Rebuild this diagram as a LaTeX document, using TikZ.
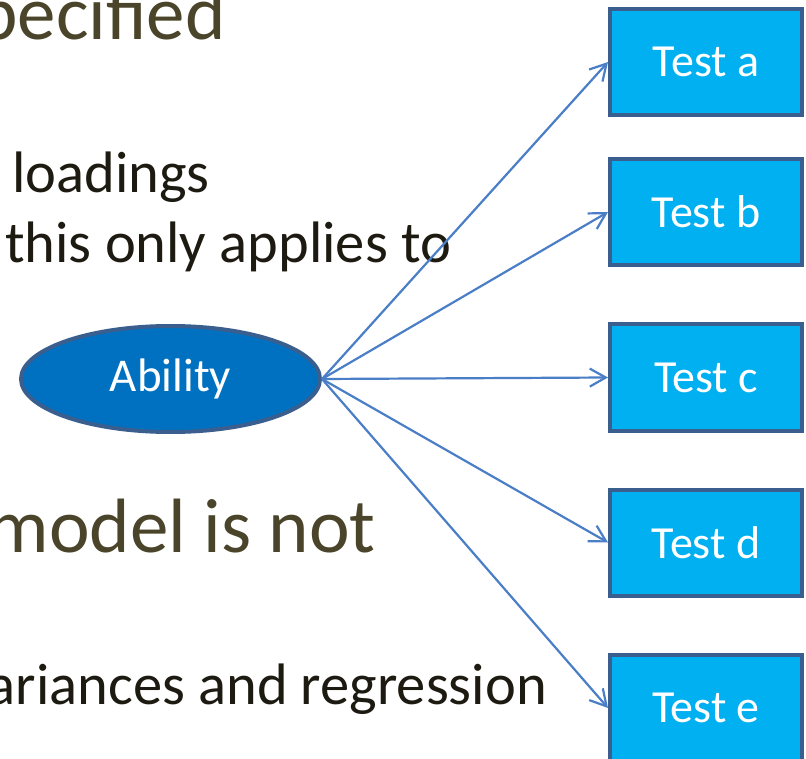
\documentclass[tikz,border=0pt]{standalone}
\usepackage{fontspec}
\setmainfont{Carlito}
\usetikzlibrary{shapes.geometric,arrows.meta}
\definecolor{titlecol}{HTML}{4A452A}
\definecolor{bodycol}{HTML}{1D1B11}
\definecolor{boxfill}{HTML}{00B0F0}
\definecolor{boxline}{HTML}{3A5F8F}
\definecolor{ellfill}{HTML}{0070C0}
\definecolor{arrowcol}{HTML}{4A7EC7}
\begin{document}
\begin{tikzpicture}[x=1pt,y=-1pt,
 testbox/.style={draw=boxline, fill=boxfill, line width=4pt, minimum width=192pt, minimum height=106pt, inner sep=0pt, text=white, font=\fontsize{46}{54}\selectfont},
 latent/.style={ellipse, draw=boxline, fill=ellfill, line width=4pt, minimum width=299pt, minimum height=106pt, inner sep=0pt, text=white, font=\fontsize{47}{56}\selectfont},
 load/.style={draw=arrowcol, line width=2.2pt, -{Straight Barb[length=16pt,width=18pt]}},
 title/.style={inner sep=0pt, text=titlecol, font=\fontsize{77}{92}\selectfont},
 body/.style={inner sep=0pt, text=bodycol, font=\fontsize{58.5}{70}\selectfont}]
\clip (0,0) rectangle (806,759);
\fill[white] (0,0) rectangle (806,759);
% slide text
\node[title, anchor=base east] (t1) at (226,40) {pecified};
\node[body, anchor=base west] (b1) at (12,193) {loadings};
\node[body, anchor=base west] (b2) at (5,263) {this only applies to};
\node[title, anchor=base east] (t2) at (376,552) {model is not};
\node[body, anchor=base east] (b3) at (547,704) {ariances and regression};
% diagram
\node[latent] (ab) at (170.5,379) {Ability};
\node[testbox] (ta) at (706,62) {Test a};
\node[testbox] (tb) at (706,212) {Test b};
\node[testbox] (tc) at (706,377.5) {Test c};
\node[testbox] (td) at (706,542.5) {Test d};
\node[testbox] (te) at (706,708) {Test e};
\foreach \t in {ta,tb,tc,td,te}
  \draw[load] (ab.east) -- (\t.west);
\end{tikzpicture}
\end{document}
